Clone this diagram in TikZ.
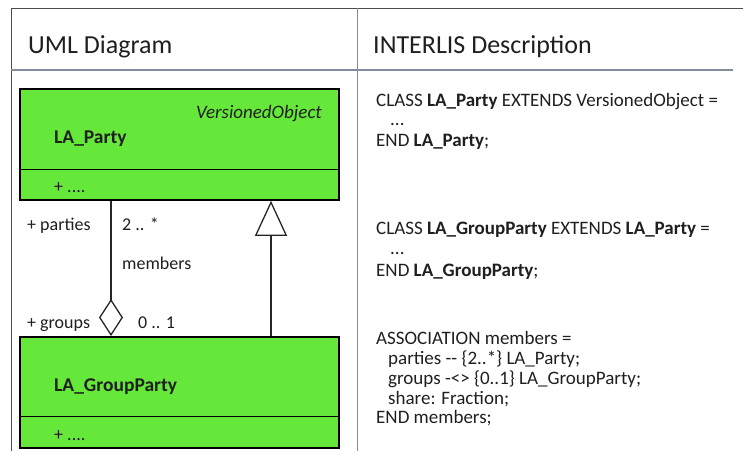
\documentclass[tikz,border=0pt]{standalone}
\usepackage{fontspec}
\setmainfont{Carlito}
\usetikzlibrary{arrows.meta}

\begin{document}
\begin{tikzpicture}[x=1pt,y=-1pt,
        clase/.style={draw=black,line width=1.8pt,fill=verde,anchor=north west,
            minimum width=319pt,minimum height=111pt,inner sep=0pt},
        etiq/.style={anchor=base west,inner sep=0pt,text=texto,font=\fontsize{18}{20}\selectfont},
        nombre/.style={etiq,font=\fontsize{19.5}{20}\selectfont\bfseries},
        codigo/.style={anchor=base west,inner sep=0pt,text=texto,font=\fontsize{19}{20}\selectfont},
        titulo/.style={anchor=base west,inner sep=0pt,text=texto,font=\fontsize{26}{30}\selectfont},
        linea/.style={line width=1.3pt,black!85}]
        %colores
        \colorlet{verde}{rgb,255:red,102;green,232;blue,58}
        \colorlet{texto}{black!88}
        \colorlet{borde}{black!70}
        \colorlet{gris}{rgb,255:red,128;green,142;blue,156}
        \useasboundingbox (0,0) rectangle (743,451);

        % Tabla
        \draw[borde,line width=1pt] (11,451) -- (11,8) -- (743,8);
        \draw[gris,line width=1pt] (357,8) -- (357,451);
        \draw[gris,line width=1.2pt] (11,70) -- (733,70);
        \node[titulo] (tuml) at (28,53) {UML Diagram};
        \node[titulo] (tili) at (373,53) {INTERLIS Description};

        % Clases
        \node[clase] (party) at (19,88) {};
        \draw[line width=1.2pt] ([yshift=31pt]party.south west) -- ([yshift=31pt]party.south east);
        \node[nombre] (nparty) at (54,143) {LA\_Party};
        \node[etiq,anchor=base east,font=\fontsize{19}{20}\selectfont\itshape] (vobj) at (322,118) {VersionedObject};
        \node[etiq] (aparty) at (54,192) {+ ....};

        \node[clase] (grupo) at (19,336) {};
        \draw[line width=1.2pt] ([yshift=32pt]grupo.south west) -- ([yshift=32pt]grupo.south east);
        \node[nombre] (ngrupo) at (54,391) {LA\_GroupParty};
        \node[etiq] (agrupo) at (54,440) {+ ....};

        % Asociacion y herencia
        \coordinate (asoc) at (111,0);
        \coordinate (gen) at (271,0);
        \draw[linea,{Diamond[open,length=37pt,width=24pt]}-] (grupo.north -| asoc) -- (party.south -| asoc);
        \draw[linea,-{Triangle[open,length=35pt,width=32pt]}] (grupo.north -| gen) -- (party.south -| gen);

        % Roles y multiplicidades
        \node[etiq] (rparties) at (27,230) {+ parties};
        \node[etiq] (mparties) at (122,230) {2 .. *};
        \node[etiq] (nasoc) at (122,269) {members};
        \node[etiq] (rgroups) at (27,328) {+ groups};
        \node[etiq] (mgroups) at (138,328) {0 .. 1};

        % Texto INTERLIS
        \foreach \y/\t in {106/{CLASS \textbf{LA\_Party} EXTENDS VersionedObject =},
                125/{\hspace*{14pt}...},
                146/{END \textbf{LA\_Party};},
                234/{CLASS \textbf{LA\_GroupParty} EXTENDS \textbf{LA\_Party} =},
                254/{\hspace*{14pt}...},
                276/{END \textbf{LA\_GroupParty};},
                344/{ASSOCIATION members =},
                364/{\hspace*{12pt}parties -{}- \{2..*\} LA\_Party;},
                384/{\hspace*{12pt}groups -<> \{0..1\} LA\_GroupParty;},
                404/{\hspace*{12pt}share: Fraction;},
                423/{END members;}}
            \node[codigo] (lin\y) at (376,\y) {\t};
    \end{tikzpicture}
\end{document}
